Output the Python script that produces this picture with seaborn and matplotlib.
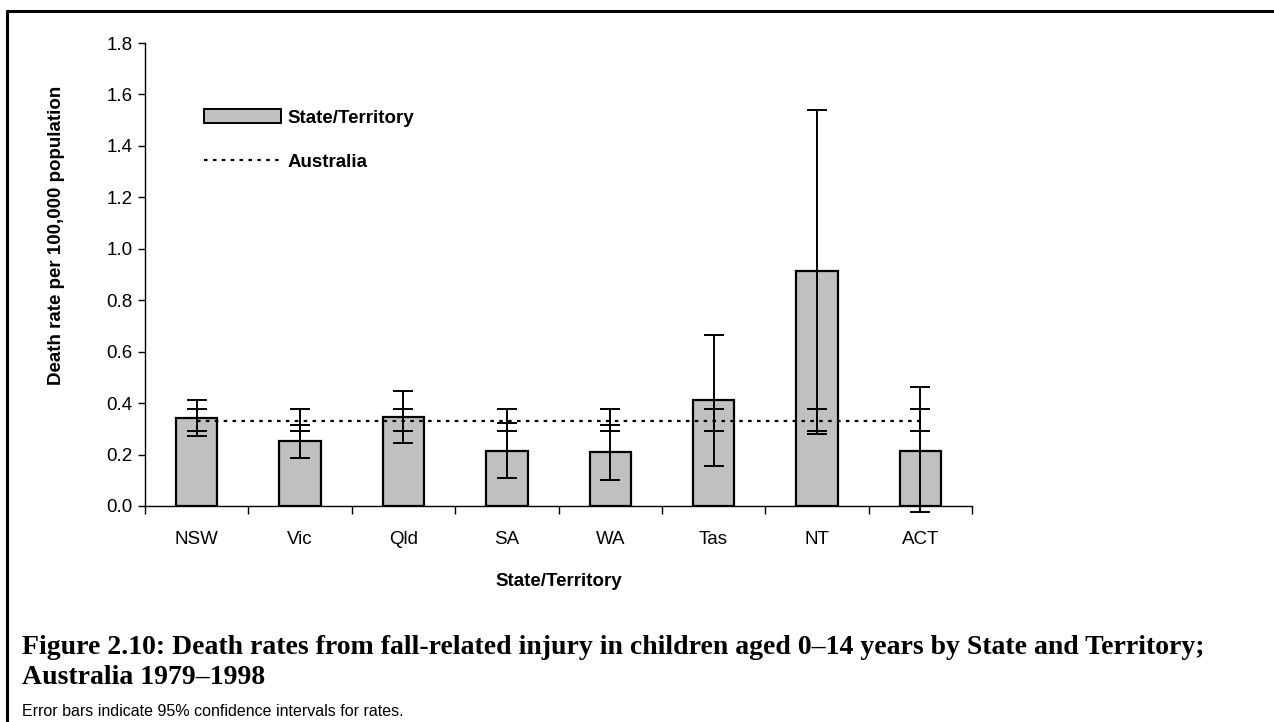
import matplotlib
matplotlib.use("Agg")
import matplotlib.pyplot as plt
import numpy as np
import pandas as pd
import seaborn as sns
from matplotlib.lines import Line2D
from matplotlib.patches import Patch

# data
states = ["NSW", "Vic", "Qld", "SA", "WA", "Tas", "NT", "ACT"]
rates = [0.341, 0.252, 0.346, 0.215, 0.210, 0.412, 0.914, 0.215]
ci_low = [0.273, 0.185, 0.244, 0.108, 0.101, 0.157, 0.280, -0.025]
ci_high = [0.411, 0.315, 0.448, 0.321, 0.315, 0.666, 1.540, 0.464]

aus_rate = 0.332
aus_low = 0.292
aus_high = 0.376

sns.set_theme(style="white", rc={"text.color": "black", "axes.labelcolor": "black",
                                 "xtick.color": "black", "ytick.color": "black"})
plt.rcParams["font.family"] = ["Liberation Sans", "DejaVu Sans"]

df = pd.DataFrame({"state": states, "rate": rates})

fig = plt.figure(figsize=(12.74, 7.22), dpi=100)
ax = fig.add_axes([0.1138, 0.2992, 0.6492, 0.6412])

sns.barplot(data=df, x="state", y="rate", order=states, width=0.4,
            color="#c0c0c0", edgecolor="black", linewidth=1.6,
            saturation=1, errorbar=None, ax=ax)

xpos = np.arange(len(states))
rates_a = np.array(rates)
yerr = [rates_a - np.array(ci_low), np.array(ci_high) - rates_a]
ax.errorbar(xpos, rates_a, yerr=yerr, fmt="none", ecolor="black",
            elinewidth=1.4, capsize=7.5, capthick=1.4, clip_on=False, zorder=4)

# Australia rate and its CI at every category
aus = np.full(len(states), aus_rate)
ax.plot(xpos, aus, color="black", linestyle=(0, (1.6, 2.4)), linewidth=1.6, zorder=5)
ax.errorbar(xpos, aus, yerr=[aus - aus_low, np.full(len(states), aus_high) - aus],
            fmt="none", ecolor="black", elinewidth=1.4, capsize=7.5, capthick=1.4, zorder=5)

ax.set_ylim(0, 1.8)
ax.set_xlim(-0.5, len(states) - 0.5)
ax.set_yticks(np.arange(0, 1.81, 0.2))
ax.set_yticklabels([f"{v:.1f}" for v in np.arange(0, 1.81, 0.2)], fontsize=13.5)
ax.set_xticks(xpos)
ax.set_xticklabels(states, fontsize=13.5)
ax.set_xticks(np.arange(-0.5, len(states)), minor=True)
ax.tick_params(axis="x", which="major", length=0, pad=18)
ax.tick_params(axis="x", which="minor", length=6, width=1, color="black", direction="out", bottom=True)
ax.tick_params(axis="y", length=5, width=1, color="black", direction="out", left=True, pad=4)

for side in ["top", "right"]:
    ax.spines[side].set_visible(False)
for side in ["left", "bottom"]:
    ax.spines[side].set_color("black")
    ax.spines[side].set_linewidth(1)

ax.set_xlabel("State/Territory", fontsize=13.5, fontweight="bold", labelpad=18)
ax.set_ylabel("Death rate per 100,000 population", fontsize=13.5, fontweight="bold")
ax.yaxis.set_label_coords(-0.0967, 0.585)

handles = [Patch(facecolor="#c0c0c0", edgecolor="black", linewidth=1.4),
           Line2D([0], [0], color="black", linestyle=(0, (1.6, 2.4)), linewidth=1.6)]
ax.legend(handles, ["State/Territory", "Australia"], loc="upper left",
          bbox_to_anchor=(0.0515, 0.893), frameon=False, handlelength=4.1,
          labelspacing=1.45, handletextpad=0.35,
          prop={"weight": "bold", "size": 13.5})

# caption and note
fig.text(0.0175, 1 - 648 / 722, "Figure 2.10: Death rates from fall-related injury in children aged 0\u201314 years by State and Territory;",
         family=["Liberation Serif", "DejaVu Serif"], fontweight="bold", fontsize=20,
         va="center", ha="left")
fig.text(0.0175, 1 - 677 / 722, "Australia 1979\u20131998",
         family=["Liberation Serif", "DejaVu Serif"], fontweight="bold", fontsize=20,
         va="center", ha="left")
fig.text(0.0175, 1 - 712 / 722, "Error bars indicate 95% confidence intervals for rates.",
         fontsize=11.5, va="center", ha="left")

# frame lines (top and left)
fig.add_artist(Line2D([0.0055, 1.0], [0.9848, 0.9848], color="black", linewidth=2.2,
                      transform=fig.transFigure))
fig.add_artist(Line2D([0.0055, 0.0055], [0.0, 0.9848], color="black", linewidth=2.2,
                      transform=fig.transFigure))

fig.savefig("out.png", dpi=100)
